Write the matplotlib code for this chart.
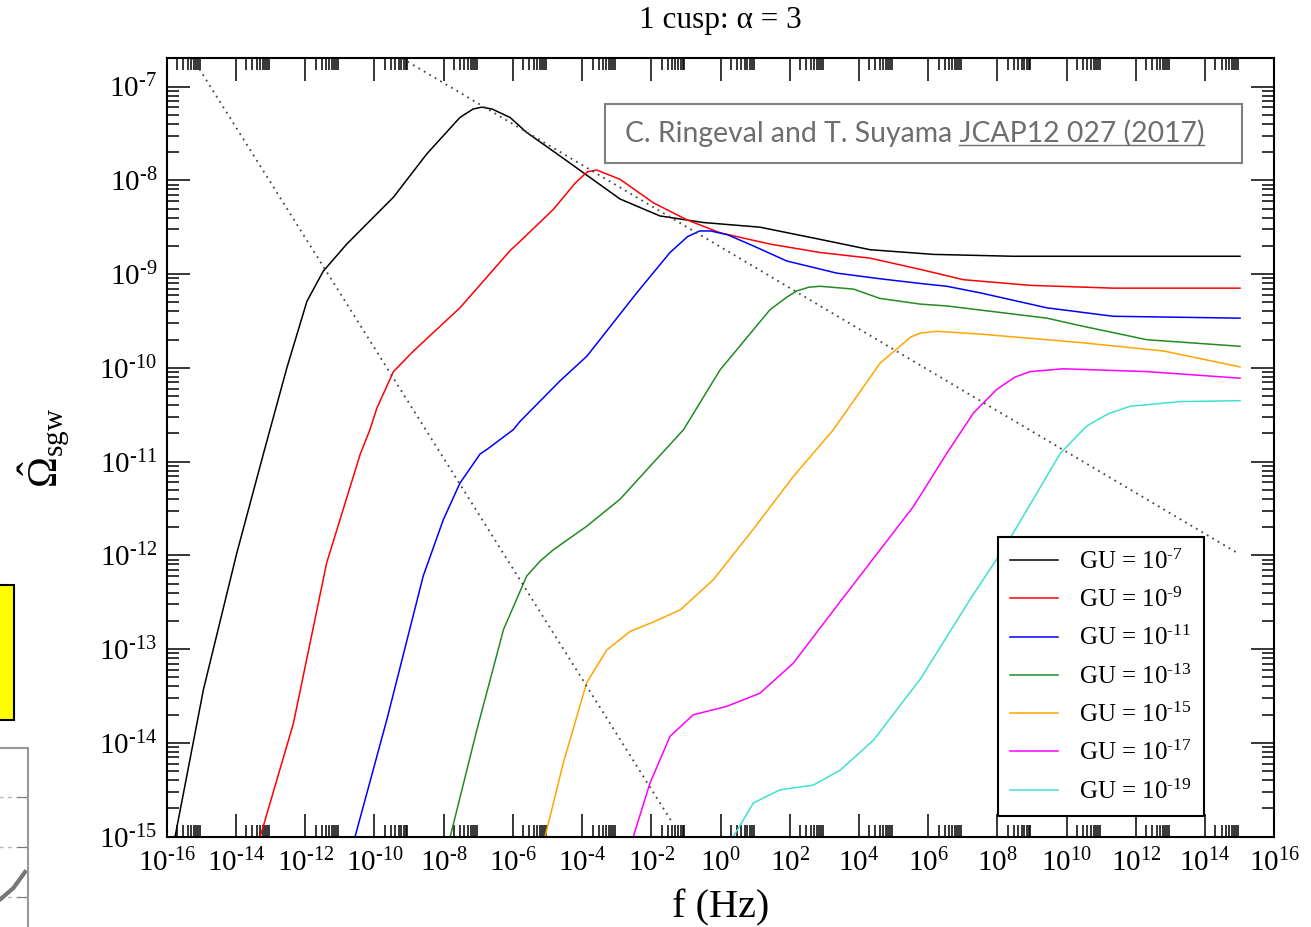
import numpy as np
import matplotlib
matplotlib.use("Agg")
import matplotlib.pyplot as plt
from matplotlib.ticker import FixedLocator, FuncFormatter, LogLocator, NullFormatter
from matplotlib.patches import Rectangle
from matplotlib.lines import Line2D

plt.rcParams["font.family"] = ["Liberation Serif", "DejaVu Serif"]
plt.rcParams["mathtext.fontset"] = "custom"
plt.rcParams["mathtext.rm"] = "Liberation Serif"
plt.rcParams["mathtext.it"] = "Liberation Serif:italic"
plt.rcParams["mathtext.bf"] = "Liberation Serif:bold"

# curves, as log10(f) and log10(Omega)
gu_exponents = [-7, -9, -11, -13, -15, -17, -19]
colors = ["#000000", "#ff0000", "#0000ff", "#228b22", "#ffa500", "#ff00ff", "#40e0d0"]

logf_gu7 = [-15.76, -14.94, -13.98, -13.21, -12.53, -11.95, -11.48, -10.80, -9.45,
            -8.49, -7.53, -7.15, -6.90, -6.60, -6.08, -5.60, -4.64, -3.96, -2.90,
            -1.75, -0.50, 1.14, 2.88, 4.32, 6.15, 8.46, 15.01]
logo_gu7 = [-15.0, -13.43, -11.98, -10.92, -10.0, -9.29, -8.97, -8.68, -8.18,
            -7.72, -7.33, -7.24, -7.22, -7.24, -7.33, -7.49, -7.74, -7.92, -8.20,
            -8.38, -8.45, -8.50, -8.63, -8.74, -8.79, -8.81, -8.81]

logf_gu9 = [-13.30, -12.34, -11.38, -10.41, -10.13, -9.93, -9.45, -8.87, -7.53,
            -6.08, -5.79, -4.83, -4.20, -3.85, -3.58, -2.90, -1.94, -0.98, -0.01,
            1.43, 2.88, 4.32, 5.77, 7.02, 8.94, 11.35, 15.01]
logo_gu9 = [-15.0, -13.79, -12.08, -10.92, -10.66, -10.43, -10.04, -9.82, -9.36,
            -8.75, -8.65, -8.31, -8.03, -7.91, -7.89, -7.99, -8.24, -8.42, -8.56,
            -8.68, -8.77, -8.83, -8.95, -9.06, -9.12, -9.15, -9.15]

logf_gu11 = [-10.56, -9.64, -8.59, -8.01, -7.53, -6.95, -6.75, -5.99, -5.79, -4.64,
             -3.86, -2.42, -1.46, -0.95, -0.60, -0.29, 0.20, 0.95, 1.91, 3.36, 4.61,
             5.77, 6.54, 7.50, 9.43, 11.35, 15.01]
logo_gu11 = [-15.0, -13.75, -12.22, -11.62, -11.23, -10.92, -10.87, -10.66, -10.57, -10.14,
             -9.875, -9.20, -8.77, -8.60, -8.54, -8.54, -8.58, -8.70, -8.86, -8.99, -9.05,
             -9.10, -9.13, -9.20, -9.36, -9.45, -9.47]

logf_gu13 = [-7.81, -7.04, -6.27, -5.60, -5.21, -4.83, -3.87, -2.90, -1.94, -1.07,
             -0.01, 1.43, 1.90, 2.20, 2.55, 2.88, 3.84, 4.61, 5.77, 6.54, 9.43,
             10.39, 12.32, 15.01]
logo_gu13 = [-15.0, -13.86, -12.79, -12.22, -12.06, -11.94, -11.69, -11.40, -11.01, -10.66,
             -10.02, -9.38, -9.25, -9.18, -9.14, -9.13, -9.16, -9.26, -9.32, -9.34, -9.47,
             -9.55, -9.70, -9.77]

logf_gu15 = [-5.07, -4.54, -3.87, -3.29, -2.61, -1.94, -1.16, -0.21, 0.95, 2.10,
             3.26, 4.61, 5.09, 5.50, 5.77, 6.25, 7.50, 10.39, 12.80, 15.01]
logo_gu15 = [-15.0, -14.21, -13.36, -13.01, -12.81, -12.71, -12.58, -12.26, -11.72, -11.16,
             -10.66, -9.95, -9.80, -9.67, -9.63, -9.61, -9.64, -9.73, -9.82, -9.99]

logf_gu17 = [-2.52, -2.04, -1.46, -0.79, 0.18, 1.14, 2.10, 3.36, 4.61, 5.57,
             6.54, 7.31, 7.98, 8.50, 8.94, 9.91, 12.32, 15.01]
logo_gu17 = [-15.0, -14.43, -13.93, -13.70, -13.61, -13.47, -13.15, -12.54, -11.94, -11.48,
             -10.91, -10.48, -10.23, -10.10, -10.04, -10.01, -10.04, -10.11]

logf_gu19 = [0.37, 0.95, 1.72, 2.68, 3.46, 4.42, 5.77, 7.21, 7.98, 8.46,
             9.82, 10.58, 11.20, 11.83, 13.28, 15.01]
logo_gu19 = [-15.0, -14.64, -14.50, -14.45, -14.29, -13.97, -13.32, -12.47, -12.04, -11.76,
             -10.91, -10.62, -10.49, -10.41, -10.36, -10.35]

curves_logf = [logf_gu7, logf_gu9, logf_gu11, logf_gu13, logf_gu15, logf_gu17, logf_gu19]
curves_logo = [logo_gu7, logo_gu9, logo_gu11, logo_gu13, logo_gu15, logo_gu17, logo_gu19]

# the two dotted straight lines
steep_logf = [-15.25, -1.41]
steep_logo = [-6.70, -14.84]
shallow_logf = [-9.20, 14.96]
shallow_logo = [-6.70, -11.98]

x_major_exp = list(range(-16, 17, 2))

fig = plt.figure(figsize=(13.11, 9.27), dpi=100)
ax = fig.add_axes([0.1272, 0.0974, 0.8448, 0.8397])

for lf, lo, c, e in zip(curves_logf, curves_logo, colors, gu_exponents):
    ax.plot(10.0 ** np.array(lf), 10.0 ** np.array(lo), color=c, lw=1.1,
            label="GU = 10$^{\\mathregular{\u2010%d}}$" % abs(e))

ax.plot(10.0 ** np.array(steep_logf), 10.0 ** np.array(steep_logo),
        color="#444444", lw=1.3, linestyle=(0, (1, 2.5)))
ax.plot(10.0 ** np.array(shallow_logf), 10.0 ** np.array(shallow_logo),
        color="#444444", lw=1.3, linestyle=(0, (1, 2.5)))

ax.set_xscale("log")
ax.set_yscale("log")
ax.set_xlim(1e-16, 1e16)
ax.set_ylim(1e-15, 2e-7)

ax.xaxis.set_major_locator(FixedLocator([10.0 ** e for e in x_major_exp]))
x_minor = [k * 10.0 ** e for e in x_major_exp[:-1] for k in range(2, 10)]
ax.xaxis.set_minor_locator(FixedLocator(x_minor))
ax.yaxis.set_major_locator(LogLocator(base=10, numticks=20))
ax.yaxis.set_minor_locator(LogLocator(base=10, subs=np.arange(2, 10), numticks=20))


def pow_label(v, pos):
    n = int(round(np.log10(v)))
    if n < 0:
        return "$\\mathregular{10^{\u2010%d}}$" % abs(n)
    return "$\\mathregular{10^{%d}}$" % n


ax.xaxis.set_major_formatter(FuncFormatter(pow_label))
ax.yaxis.set_major_formatter(FuncFormatter(pow_label))
ax.xaxis.set_minor_formatter(NullFormatter())
ax.yaxis.set_minor_formatter(NullFormatter())

ax.tick_params(which="both", direction="in", top=True, right=True, width=1.1, colors="black")
ax.tick_params(which="major", length=16.5, labelsize=21)
ax.tick_params(axis="x", which="major", pad=9)
ax.tick_params(axis="y", which="major", pad=7)
ax.tick_params(which="minor", length=8.5)
for s in ax.spines.values():
    s.set_linewidth(1.5)

ax.set_title("1 cusp: α = 3", fontsize=22.5, pad=22)
ax.set_xlabel("f (Hz)", fontsize=29, labelpad=8)
ax.set_ylabel(r"$\hat{\Omega}_{\mathregular{sgw}}$", fontsize=30, va="center")
ax.yaxis.set_label_coords(-0.11, 0.5)

leg = ax.legend(loc="lower left", bbox_to_anchor=(0.7505, 0.0266), borderaxespad=0,
                fontsize=18, fancybox=False, framealpha=1, edgecolor="black",
                handlelength=1.9, handletextpad=0.85, labelspacing=0.56,
                borderpad=0.5)
leg.get_frame().set_linewidth(1.5)

# reference box with underlined journal
fig.patches.append(Rectangle((0.4615, 0.8242), 0.486, 0.0636, transform=fig.transFigure,
                             facecolor="white", edgecolor="#7f7f7f", lw=1.5, zorder=5))
ref_size = 20.4
ref_text = fig.text(0.4767, 0.8468, "C. Ringeval and T. Suyama JCAP12 027 (2017)",
                    family="Lato", fontsize=ref_size, color="#6e6e6e", va="baseline",
                    zorder=6)
fig.canvas.draw()
renderer = fig.canvas.get_renderer()
full_bb = ref_text.get_window_extent(renderer)
tmp = fig.text(0, 0, "JCAP12 027 (2017)", family="Lato", fontsize=ref_size)
w_suffix = tmp.get_window_extent(renderer).width
tmp.remove()
y_base = fig.transFigure.transform((0, 0.8468))[1] - 3
inv = fig.transFigure.inverted()
p0 = inv.transform((full_bb.x1 - w_suffix, y_base))
p1 = inv.transform((full_bb.x1, y_base))
fig.lines.append(Line2D([p0[0], p1[0]], [p0[1], p1[1]], transform=fig.transFigure,
                        color="#6e6e6e", lw=1.0, zorder=6))

# slide leftovers at the left edge
fig.patches.append(Rectangle((-0.02, 0.2233), 0.0307, 0.1457, transform=fig.transFigure,
                             facecolor="#ffff00", edgecolor="black", lw=1.5, zorder=5))

side_x = [0.35, 0.55, 0.75, 0.95]
side_y = [0.80, 0.98, 1.18, 1.50]
side = fig.add_axes([-0.0229, -0.0356, 0.0442, 0.2287])
side.plot(side_x, side_y, color="#777777", lw=3)
side.set_xlim(0, 1)
side.set_ylim(-0.26, 3.98)
side.set_yticks([1, 2, 3])
side.set_xticks([])
side.yaxis.grid(True, linestyle=(0, (3, 3)), color="#bbbbbb", lw=1)
side.tick_params(axis="y", direction="in", left=False, right=True, length=8,
                 color="#777777", labelleft=False)
for s in side.spines.values():
    s.set_color("#999999")
    s.set_linewidth(1.5)

fig.savefig("out.png", dpi=100)
